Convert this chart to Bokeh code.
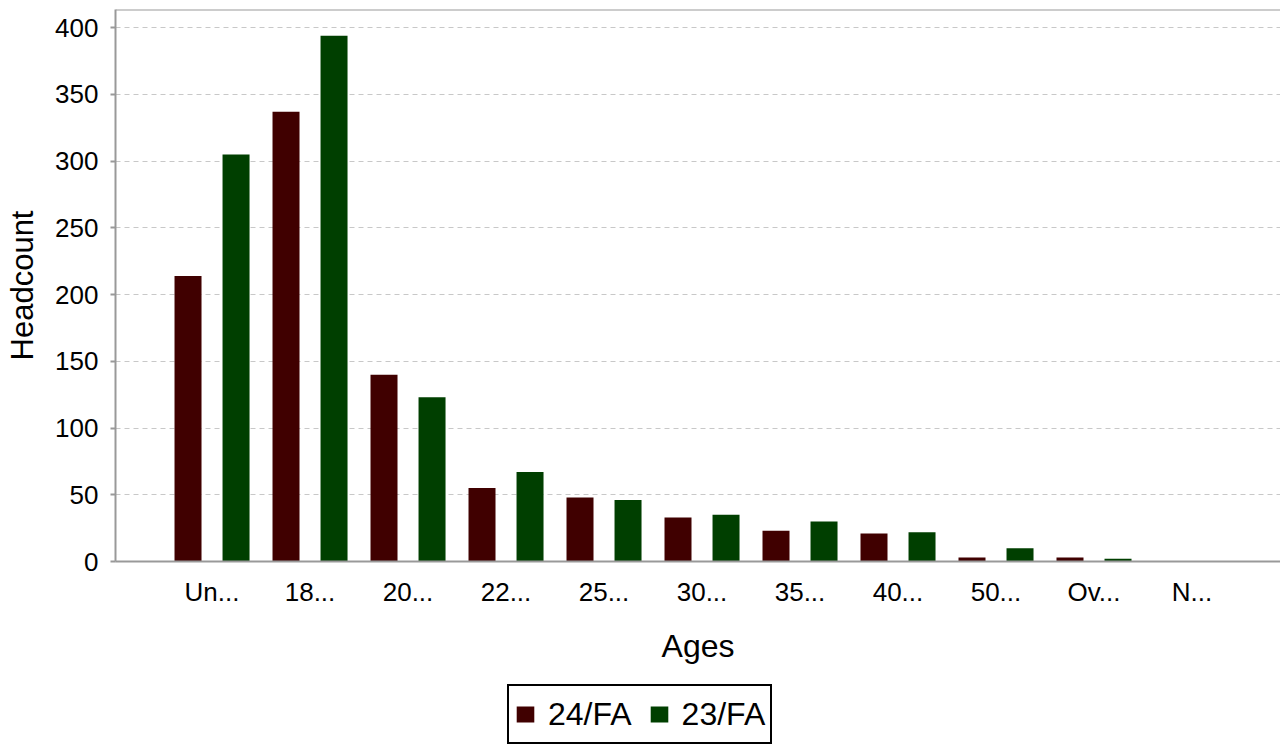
import numpy as np
from bokeh.plotting import figure
from bokeh.layouts import column
from bokeh.models import (ColumnDataSource, Range1d, FixedTicker, Legend, LegendItem, Span)
from bokeh.transform import dodge
from bokeh.embed import file_html
from bokeh.resources import INLINE

# ---- data ----
categories = ["Un...", "18...", "20...", "22...", "25...", "30...", "35...", "40...", "50...", "Ov...", "N..."]
fa24 = [214, 337, 140, 55, 48, 33, 23, 21, 3, 3, 0]
fa23 = [305, 394, 123, 67, 46, 35, 30, 22, 10, 2, 0]
series_names = ["24/FA", "23/FA"]
series_colors = ["#400000", "#003f00"]
y_ticks = [0, 50, 100, 150, 200, 250, 300, 350, 400]

idx = list(range(len(categories)))
src = ColumnDataSource(dict(x=idx, fa24=fa24, fa23=fa23))

FONT = "Liberation Sans"
W = 1280

p = figure(width=W, height=680, output_backend="svg", toolbar_location=None,
           x_range=Range1d(-0.985, 10.903), y_range=Range1d(0, 413.6),
           min_border_left=115, min_border_right=0, min_border_top=9, min_border_bottom=119)

bw = 0.2755
r1 = p.vbar(x=dodge("x", -0.245, range=p.x_range), top="fa24", width=bw, source=src,
            fill_color=series_colors[0], line_color=None)
r2 = p.vbar(x=dodge("x", 0.245, range=p.x_range), top="fa23", width=bw, source=src,
            fill_color=series_colors[1], line_color=None)

p.outline_line_color = None
p.background_fill_color = "white"
p.border_fill_color = "white"

# grid
p.xgrid.grid_line_color = None
p.ygrid.grid_line_color = "#c8c8c8"
p.ygrid.grid_line_dash = "5 4"
p.ygrid.grid_line_width = 1
p.ygrid.ticker = FixedTicker(ticks=y_ticks)

# top border line
p.add_layout(Span(location=413.6, dimension="width", line_color="#999999", line_width=2))

# y axis
ya = p.yaxis[0]
ya.ticker = FixedTicker(ticks=y_ticks)
ya.axis_label = "Headcount"
ya.axis_label_text_font = FONT
ya.axis_label_text_font_size = "31px"
ya.axis_label_text_font_style = "normal"
ya.axis_label_text_color = "black"
ya.axis_label_standoff = 12
ya.major_label_text_font = FONT
ya.major_label_text_font_size = "26px"
ya.major_label_text_color = "black"
ya.major_label_standoff = 12
ya.axis_line_color = "#999999"
ya.axis_line_width = 2
ya.major_tick_line_color = "#999999"
ya.major_tick_line_width = 2
ya.major_tick_out = 5
ya.major_tick_in = 0
ya.minor_tick_line_color = None

# x axis
xa = p.xaxis[0]
xa.ticker = FixedTicker(ticks=idx)
xa.major_label_overrides = {i: c for i, c in zip(idx, categories)}
xa.axis_label = "Ages"
xa.axis_label_text_font = FONT
xa.axis_label_text_font_size = "32px"
xa.axis_label_text_font_style = "normal"
xa.axis_label_text_color = "black"
xa.axis_label_standoff = 18
xa.major_label_text_font = FONT
xa.major_label_text_font_size = "26px"
xa.major_label_text_color = "black"
xa.major_label_standoff = 15
xa.axis_line_color = "#999999"
xa.axis_line_width = 2
xa.major_tick_line_color = None
xa.major_tick_out = 0
xa.major_tick_in = 0
xa.minor_tick_line_color = None

# ---- legend strip (separate figure below the chart) ----
q = figure(width=W, height=66, output_backend="svg", toolbar_location=None,
           x_axis_location=None, y_axis_location=None,
           x_range=Range1d(0, 1), y_range=Range1d(0, 1),
           min_border_left=0, min_border_right=0, min_border_top=0, min_border_bottom=0)
q.outline_line_color = None
q.grid.grid_line_color = None
q.background_fill_color = "white"
q.border_fill_color = "white"
swatch = ColumnDataSource(dict(x=[np.nan], top=[np.nan]))
l1 = q.vbar(x="x", top="top", width=0.1, source=swatch, fill_color=series_colors[0], line_color=None)
l2 = q.vbar(x="x", top="top", width=0.1, source=swatch, fill_color=series_colors[1], line_color=None)

legend = Legend(items=[LegendItem(label=series_names[0], renderers=[l1]),
                       LegendItem(label=series_names[1], renderers=[l2])],
                orientation="horizontal", location=(392, 2))
legend.border_line_color = "black"
legend.border_line_alpha = 1
legend.border_line_width = 2
legend.background_fill_color = "white"
legend.background_fill_alpha = 1
legend.label_text_font = FONT
legend.label_text_font_size = "32px"
legend.label_text_color = "black"
legend.glyph_width = 22
legend.glyph_height = 20
legend.label_standoff = 12
legend.spacing = 16
legend.padding = 5
legend.margin = 0
legend.label_height = 46
q.add_layout(legend, "center")

layout = column(p, q, spacing=0)
open("out.html", "w").write(file_html(layout, INLINE))
